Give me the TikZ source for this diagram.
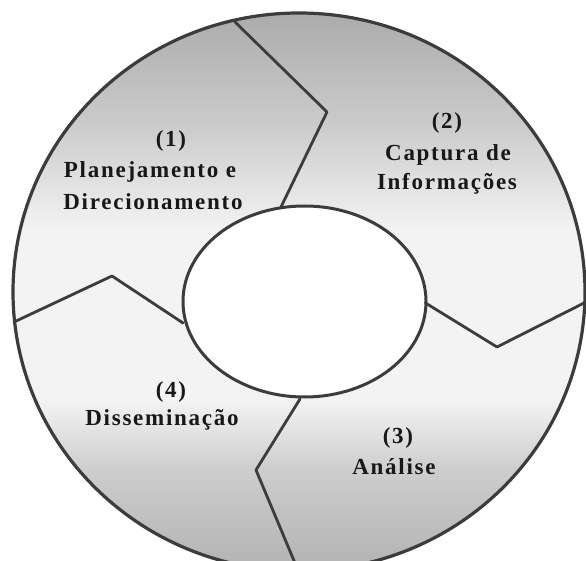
\documentclass[tikz,border=0pt]{standalone}
\usepackage{fontspec}
\newfontfamily\lblfont[LetterSpace=7.5]{Liberation Serif}
\definecolor{ringgrayB}{HTML}{B2B2B2}
\definecolor{ringgrayM}{HTML}{CDCDCD}
\definecolor{ringgrayT}{HTML}{ABABAB}
\definecolor{ringlight}{HTML}{F3F3F3}
\definecolor{edgecol}{HTML}{3C3C3C}
\definecolor{txtcol}{HTML}{181818}
\pgfdeclareverticalshading{ringshade}{100bp}{%
  color(0bp)=(ringgrayB);
  color(25bp)=(ringgrayB);
  color(34bp)=(ringgrayM);
  color(40.3bp)=(ringlight);
  color(55.6bp)=(ringlight);
  color(64.5bp)=(ringgrayM);
  color(75bp)=(ringgrayT);
  color(100bp)=(ringgrayT)}
\tikzset{
  rim/.style={draw=edgecol, line width=3.2pt},
  divider/.style={draw=edgecol, line width=2.8pt, line join=round, line cap=round},
  lbl/.style={text=txtcol, inner sep=0pt, font=\lblfont\bfseries\fontsize{23}{29}\selectfont}
}
\begin{document}
\begin{tikzpicture}[x=1pt, y=-1pt]
\useasboundingbox (0,0) rectangle (586,561);
\fill[white] (0,0) rectangle (586,561);
\clip (0,0) rectangle (586,561);
% outer disc with vertical shading
\shade[shading=ringshade] (299,292) ellipse [x radius=286pt, y radius=279pt];
\draw[rim] (299,292) ellipse [x radius=286pt, y radius=279pt];
% inner ellipse
\filldraw[fill=white, rim, line width=3pt] (304.5,301.5) ellipse [x radius=121.5pt, y radius=95.5pt];
% divider points
\coordinate (t0) at (235,22);
\coordinate (t1) at (327,112);
\coordinate (t2) at (281,207);
\coordinate (l0) at (14,322);
\coordinate (l1) at (112,276);
\coordinate (l2) at (183,323);
\coordinate (r0) at (425.5,303);
\coordinate (r1) at (497,347);
\coordinate (r2) at (588,301);
\coordinate (b0) at (300,399);
\coordinate (b1) at (256,470);
\coordinate (b2) at (300,575);
\draw[divider] (t0) -- (t1) -- (t2);
\draw[divider] (l0) -- (l1) -- (l2);
\draw[divider] (r0) -- (r1) -- (r2);
\draw[divider] (b0) -- (b1) -- (b2);
% labels
\node[lbl] (n1) at (171,141) {(1)};
\node[lbl] (n1a) at (150,172) {Planejamento e};
\node[lbl] (n1b) at (153,202) {Direcionamento};
\node[lbl] (n2) at (447,123) {(2)};
\node[lbl] (n2a) at (448,155) {Captura de};
\node[lbl] (n2b) at (447,184) {Informações};
\node[lbl] (n3) at (398,438) {(3)};
\node[lbl] (n3a) at (394,467) {Análise};
\node[lbl] (n4) at (171,392) {(4)};
\node[lbl] (n4a) at (162,420) {Disseminação};
\end{tikzpicture}
\end{document}
